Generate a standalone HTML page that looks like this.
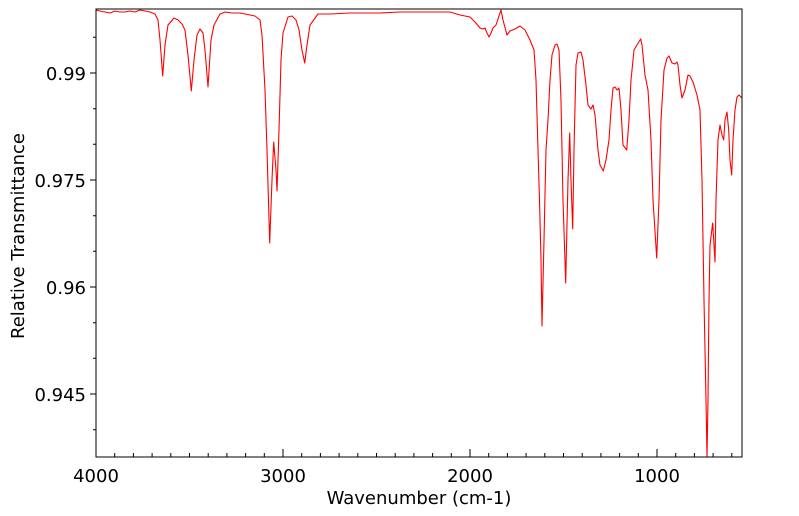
<!DOCTYPE html>
<html><head><meta charset="utf-8"><style>body{margin:0;background:#fff}svg{display:block}text{font-family:"DejaVu Sans","Liberation Sans",sans-serif;fill:#000}</style></head><body>
<svg width="799" height="516" viewBox="0 0 799 516" xmlns="http://www.w3.org/2000/svg">
<polyline fill="none" stroke="#f00" stroke-width="1.1" stroke-linejoin="round" points="96,10 100,11 105,12 110,13 115,11 120,12 125,12 130,11 135,12 140,10 145,11 150,12 155,14 158,20 160,40 162.7,76 165,45 168,25 174,18 178,20 182,24 185,30 188,55 191.3,91 194,60 197,35 200,29 203,33 205,50 208,87 211,40 214,25 220,14 225,12 232,13 240,13 250,15 255,16 260,20 262,35 265,90 267,150 269.7,243 272,180 273.7,142 276,170 277,191 279,130 281,60 283,33 288,17 292,16 296,20 299,30 302,50 304.7,63 307,45 310,25 318,14 330,14 350,13 380,13 400,12 430,12 450,12 460,15 470,17 475,22 480,28 483,29 485,28 487,33 489,37 491,33 493,28 496,25 498,19 501,10 503,20 507,35 510,31 515,29 520,26 525,30 530,40 534,50 536,80 538,150 539.5,200 541,260 542,326 544,240 546,150 548,120 550,80 552,55 555,45 557,44 559,50 561,100 563,200 565.7,283 568,180 569.7,133 571,180 572.7,229 574,150 576,65 578,53 581,52 583,60 586,85 588,105 591,109 593,105 595,115 598,150 600,165 603.3,171 606,160 609,140 611,110 613,88 615,87 617,90 619,88 621,110 623,145 626.7,150 629,120 631,80 634,50 637,45 640.7,39 642,45 645,75 648,90 651,140 653,200 656.7,258 659,200 661,120 664,70 667,58 669,56 672,63 675,64 677,62 678,65 680,85 682,98 685,90 688,75 690,76 693,82 697,95 700,110 702,180 704,300 706,400 707,457 708,400 709,300 710,245 712.7,223 715,262 716,200 718,140 720,125 722,135 723.7,140 725,120 727,112 728.7,130 730,160 731.7,175 733,140 735,110 737,97 739,95 742,98"/>
<rect x="96" y="9" width="646" height="448" fill="none" stroke="#000" stroke-width="1"/>
<g stroke="#000" stroke-width="1">
<path d="M96 457v-8M283 457v-8M470 457v-8M657 457v-8"/>
<path d="M114.7 457v-4M133.4 457v-4M152.1 457v-4M170.8 457v-4M189.5 457v-4M208.2 457v-4M226.9 457v-4M245.6 457v-4M264.3 457v-4M301.7 457v-4M320.4 457v-4M339.1 457v-4M357.8 457v-4M376.5 457v-4M395.2 457v-4M413.9 457v-4M432.6 457v-4M451.3 457v-4M488.7 457v-4M507.4 457v-4M526.1 457v-4M544.8 457v-4M563.5 457v-4M582.2 457v-4M600.9 457v-4M619.6 457v-4M638.3 457v-4M675.7 457v-4M694.4 457v-4M713.1 457v-4M731.8 457v-4"/>
<path d="M90 73h6M90 180h6M90 287h6M90 394h6"/>
<path d="M93 37.3h3M93 108.7h3M93 144.3h3M93 215.7h3M93 251.3h3M93 322.7h3M93 358.3h3M93 429.7h3"/>
</g>
<g font-size="18">
<text x="86" y="80" text-anchor="end">0.99</text>
<text x="86" y="187" text-anchor="end">0.975</text>
<text x="86" y="294" text-anchor="end">0.96</text>
<text x="86" y="401" text-anchor="end">0.945</text>
<text x="96" y="482" text-anchor="middle">4000</text>
<text x="283" y="482" text-anchor="middle">3000</text>
<text x="470" y="482" text-anchor="middle">2000</text>
<text x="657" y="482" text-anchor="middle">1000</text>
<text x="419" y="504" text-anchor="middle">Wavenumber (cm-1)</text>
<text transform="translate(24,236) rotate(-90)" text-anchor="middle">Relative Transmittance</text>
</g>
</svg>
</body></html>
